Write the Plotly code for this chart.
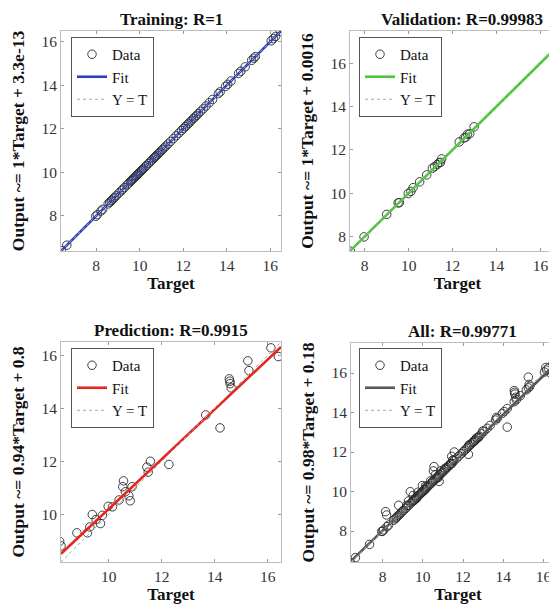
import plotly.graph_objects as go

W, H = 557, 607

# ---------------- data ----------------
train_target = [6.40, 6.65, 7.98, 8.05, 8.22, 8.30, 8.55, 8.62, 8.68, 8.72, 8.78, 8.85,
                8.92, 9.05, 9.15, 9.22, 9.30, 9.42, 9.50, 9.58, 9.62, 9.68, 9.72, 9.78,
                9.82, 9.88, 9.92, 9.97, 10.02, 10.08, 10.12, 10.18, 10.25, 10.32, 10.40,
                10.48, 10.55, 10.62, 10.68, 10.72, 10.78, 10.85, 10.92, 10.98, 11.05,
                11.12, 11.20, 11.30, 11.42, 11.55, 11.68, 11.80, 11.92, 12.02, 12.10,
                12.18, 12.25, 12.32, 12.40, 12.48, 12.55, 12.62, 12.70, 12.80, 12.92,
                13.05, 13.20, 13.35, 13.62, 13.70, 13.95, 14.05, 14.20, 14.55, 14.65,
                14.85, 15.15, 15.25, 15.32, 16.05, 16.15, 16.25, 16.48]
train_output = [6.40, 6.65, 7.98, 8.05, 8.22, 8.30, 8.55, 8.62, 8.68, 8.72, 8.78, 8.85,
                8.92, 9.05, 9.15, 9.22, 9.30, 9.42, 9.50, 9.58, 9.62, 9.68, 9.72, 9.78,
                9.82, 9.88, 9.92, 9.97, 10.02, 10.08, 10.12, 10.18, 10.25, 10.32, 10.40,
                10.48, 10.55, 10.62, 10.68, 10.72, 10.78, 10.85, 10.92, 10.98, 11.05,
                11.12, 11.20, 11.30, 11.42, 11.55, 11.68, 11.80, 11.92, 12.02, 12.10,
                12.18, 12.25, 12.32, 12.40, 12.48, 12.55, 12.62, 12.70, 12.80, 12.92,
                13.05, 13.20, 13.35, 13.62, 13.70, 13.95, 14.05, 14.20, 14.55, 14.65,
                14.85, 15.15, 15.25, 15.32, 16.05, 16.15, 16.25, 16.48]

val_target = [7.35, 7.97, 9.00, 9.52, 9.58, 9.98, 10.10, 10.20, 10.50, 10.82, 11.08,
              11.18, 11.30, 11.38, 11.45, 11.50, 12.30, 12.52, 12.60, 12.68, 12.78, 12.98]
val_output = [7.32, 7.98, 9.02, 9.55, 9.56, 9.98, 10.08, 10.25, 10.52, 10.84, 11.15,
              11.22, 11.32, 11.40, 11.42, 11.58, 12.36, 12.54, 12.58, 12.72, 12.74, 13.06]

test_target = [8.15, 8.20, 8.80, 9.20, 9.29, 9.38, 9.52, 9.69, 9.76, 9.98, 10.14, 10.39,
               10.56, 10.53, 10.63, 10.76, 10.81, 10.88, 11.44, 11.49, 11.57, 12.27,
               13.66, 14.20, 14.55, 14.58, 14.62, 14.57, 15.25, 15.29, 16.12, 16.40]
test_output = [8.98, 8.81, 9.30, 9.30, 9.52, 9.99, 9.80, 9.65, 9.96, 10.30, 10.28, 10.54,
               11.26, 11.04, 10.85, 10.70, 10.51, 11.04, 11.78, 11.59, 12.00, 11.88,
               13.75, 13.26, 15.11, 14.93, 14.77, 15.02, 15.79, 15.42, 16.28, 15.95]

all_target = train_target + val_target + test_target
all_output = train_output + val_output + test_output

titles = ["Training: R=1", "Validation: R=0.99983", "Prediction: R=0.9915", "All: R=0.99771"]
ylabels = ["Output ~= 1*Target + 3.3e-13", "Output ~= 1*Target + 0.0016",
           "Output ~= 0.94*Target + 0.8", "Output ~= 0.98*Target + 0.18"]
fit_slope = [1.0, 1.0, 0.94, 0.98]
fit_intercept = [3.3e-13, 0.0016, 0.8, 0.18]
legend_names = ["Data", "Fit", "Y = T"]

# ---------------- styling / layout ----------------
fit_colors = ["#2f3fb5", "#4cc43c", "#e52620", "#585858"]
limits = [(6.38, 16.5), (7.33, 17.48), (8.2, 16.5), (6.43, 17.52)]
# axes boxes in pixels: left, top, right, bottom (right column is cut by the figure edge)
boxes = [(53, 23, 273, 243), (342, 23, 565, 243), (53, 334, 273, 554), (343, 335, 566, 554)]
legend_pos = [(63, 29), (351, 29), (63, 340), (351, 340)]

SERIF = "Liberation Serif"
datasets = [(train_target, train_output), (val_target, val_output),
            (test_target, test_output), (all_target, all_output)]

fig = go.Figure()
layout = dict(width=W, height=H, margin=dict(l=0, r=0, t=0, b=0),
              paper_bgcolor="white", plot_bgcolor="white", showlegend=True,
              font=dict(family=SERIF, color="#222"))
annotations = []

for i in range(4):
    tx, ty = datasets[i]
    lo, hi = limits[i]
    L, T, R, B = boxes[i]
    sfx = "" if i == 0 else str(i + 1)
    xa, ya = "x" + sfx, "y" + sfx
    leg = "legend" + sfx
    clipped = R > W
    x_dom_end = min(R, W) / W
    x_hi = lo + (min(R, W) - L) / (R - L) * (hi - lo)

    fig.add_trace(go.Scatter(
        x=tx, y=ty, mode="markers", name=legend_names[0], xaxis=xa, yaxis=ya, legend=leg,
        marker=dict(symbol="circle-open", size=8.5, color="#2a2a2a", line=dict(width=0.9)),
        cliponaxis=True))
    fig.add_trace(go.Scatter(
        x=[lo, hi], y=[fit_slope[i] * lo + fit_intercept[i], fit_slope[i] * hi + fit_intercept[i]],
        mode="lines", name=legend_names[1], xaxis=xa, yaxis=ya, legend=leg,
        line=dict(color=fit_colors[i], width=2.6)))
    fig.add_trace(go.Scatter(
        x=[lo, hi], y=[lo, hi], mode="lines", name=legend_names[2], xaxis=xa, yaxis=ya,
        legend=leg, line=dict(color="#a8a8a8", width=1, dash="dot")))

    axis_common = dict(showgrid=False, zeroline=False, showline=True, linecolor="#bdbdbd",
                       linewidth=1, ticks="inside", ticklen=3, tickcolor="#9a9a9a",
                       dtick=2, tick0=0, automargin=False,
                       tickfont=dict(family=SERIF, size=15.5, color="#333"))
    layout["xaxis" + sfx] = dict(axis_common, domain=[L / W, x_dom_end], range=[lo, x_hi],
                                 anchor=ya, mirror="ticks",
                                 title=dict(text="<b>Target</b>", standoff=1,
                                            font=dict(family=SERIF, size=17, color="#111")))
    layout["yaxis" + sfx] = dict(axis_common, domain=[1 - B / H, 1 - T / H], range=[lo, hi],
                                 anchor=xa, mirror=False if clipped else "ticks",
                                 title=dict(text="<b>" + ylabels[i] + "</b>", standoff=12,
                                            font=dict(family=SERIF, size=17.5, color="#111")))
    lx, ly = legend_pos[i]
    layout[leg] = dict(x=lx / W, y=1 - ly / H, xanchor="left", yanchor="top",
                       xref="paper", yref="paper", bgcolor="white",
                       bordercolor="#555", borderwidth=1,
                       font=dict(family=SERIF, size=15, color="#111"),
                       itemwidth=30, tracegroupgap=0)
    annotations.append(dict(text="<b>" + titles[i] + "</b>", xref="paper", yref="paper",
                            x=(L + R) / 2 / W, y=1 - (T - 11.5) / H, xanchor="center",
                            yanchor="middle", showarrow=False,
                            font=dict(family=SERIF, size=17, color="#111")))

layout["annotations"] = annotations
fig.update_layout(**layout)
fig.write_html("out.html")
